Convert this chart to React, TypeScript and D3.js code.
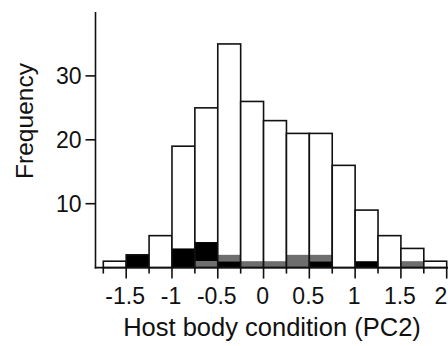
import React from "react";
import * as d3 from "d3";

const binStarts = [-1.75, -1.5, -1.25, -1, -0.75, -0.5, -0.25, 0, 0.25, 0.5, 0.75, 1, 1.25, 1.5, 1.75];
const totalCounts = [1, 2, 5, 19, 25, 35, 26, 23, 21, 21, 16, 9, 5, 3, 1];
const blackCounts = [0, 2, 0, 3, 3, 1, 0, 0, 0, 1, 0, 1, 0, 0, 0];
const grayCounts = [0, 0, 0, 0, 1, 1, 1, 1, 2, 1, 0, 0, 0, 1, 0];
const grayBelow = [false, false, false, false, true, false, false, false, false, false, false, false, false, false, false];
const binWidth = 0.25;
const xTickValues = [-1.5, -1, -0.5, 0, 0.5, 1, 1.5, 2];
const xMinorTicks = [-1.75, -1.25, -0.75, -0.25, 0.25, 0.75, 1.25, 1.75];
const yTickValues = [10, 20, 30];

export default function App() {
  const W = 448, H = 346;
  const x = d3.scaleLinear().domain([-1.75, 2]).range([103.3, 446.7]);
  const y = d3.scaleLinear().domain([0, 40]).range([267.6, 12]);
  const axisX = 95.5;
  const font = "'Liberation Sans', Arial, sans-serif";

  return (
    <svg width={W} height={H} style={{ position: "absolute", left: 0, top: 0, background: "#fff" }}>
      {binStarts.map((b, i) => {
        const x0 = x(b), x1 = x(b + binWidth);
        const segs: { lo: number; hi: number; c: string }[] = [];
        const bk = blackCounts[i], gr = grayCounts[i];
        if (grayBelow[i]) {
          segs.push({ lo: 0, hi: gr, c: "#6e6e6e" });
          segs.push({ lo: gr, hi: gr + bk, c: "#000" });
        } else {
          segs.push({ lo: 0, hi: bk, c: "#000" });
          segs.push({ lo: bk, hi: bk + gr, c: "#6e6e6e" });
        }
        return (
          <g key={i}>
            <rect x={x0} y={y(totalCounts[i])} width={x1 - x0} height={y(0) - y(totalCounts[i])} fill="#fff" />
            {segs.filter(s => s.hi > s.lo).map((s, j) => (
              <rect key={j} x={x0} y={y(s.hi)} width={x1 - x0} height={y(s.lo) - y(s.hi)} fill={s.c} />
            ))}
            <rect x={x0} y={y(totalCounts[i])} width={x1 - x0} height={y(0) - y(totalCounts[i])} fill="none" stroke="#111" strokeWidth={1.6} />
          </g>
        );
      })}
      {/* y axis */}
      <line x1={axisX} x2={axisX} y1={y(40)} y2={y(0) + 0.8} stroke="#111" strokeWidth={1.6} />
      {yTickValues.map(t => (
        <g key={t}>
          <line x1={axisX - 10} x2={axisX} y1={y(t)} y2={y(t)} stroke="#111" strokeWidth={1.6} />
          <text x={axisX - 14} y={y(t)} dy="0.36em" textAnchor="end" fontFamily={font} fontSize={23} fill="#111">{t}</text>
        </g>
      ))}
      {/* x axis */}
      <line x1={axisX - 0.8} x2={W} y1={y(0)} y2={y(0)} stroke="#111" strokeWidth={1.6} />
      {xMinorTicks.map(t => (
        <line key={"m" + t} x1={x(t)} x2={x(t)} y1={y(0)} y2={y(0) + 6} stroke="#111" strokeWidth={1.6} />
      ))}
      {xTickValues.map(t => (
        <g key={t}>
          <line x1={x(t)} x2={x(t)} y1={y(0)} y2={y(0) + 11} stroke="#111" strokeWidth={1.6} />
          <text x={Math.min(x(t) - 1, W - 7)} y={304} textAnchor="middle" fontFamily={font} fontSize={23} fill="#111">{String(t)}</text>
        </g>
      ))}
      <text x={272} y={336} textAnchor="middle" fontFamily={font} fontSize={25.5} fill="#111">Host body condition (PC2)</text>
      <text transform="translate(33,121) rotate(-90)" textAnchor="middle" fontFamily={font} fontSize={24.5} fill="#111">Frequency</text>
    </svg>
  );
}
